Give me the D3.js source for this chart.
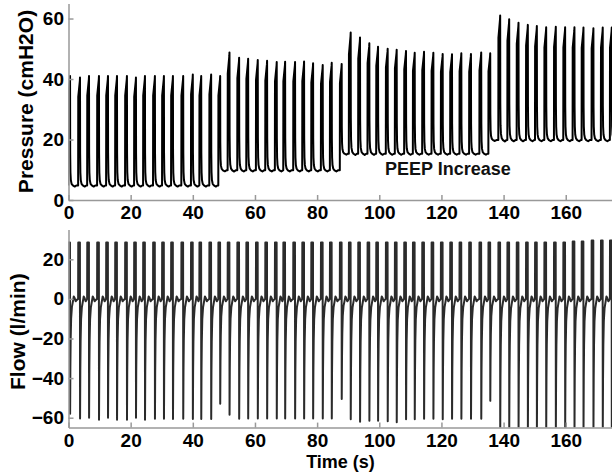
<!DOCTYPE html>
<html>
<head>
<meta charset="utf-8">
<script src="https://cdn.jsdelivr.net/npm/d3@7"></script>
<style>
  body { margin: 0; background: #fff; }
  text { font-family: "Liberation Sans", Arial, sans-serif; font-weight: bold; }
</style>
</head>
<body>
<svg id="chart"></svg>
<script>
// time (s) of each breath's end of inspiration
const peakTimes = [0.5, 3.7, 6.6, 9.8, 12.7, 15.6, 18.8, 21.7, 24.6, 27.8, 30.7, 33.6, 36.9, 40.0, 42.7, 45.9, 48.8,
  51.8, 54.9, 57.8, 60.9, 63.9, 67.0, 69.7, 72.9, 75.8, 78.7, 81.8, 84.7, 87.9,
  90.8, 93.8, 96.8, 99.6, 102.7, 105.6, 108.6, 111.4, 114.4, 117.4, 120.4, 123.4, 126.4, 129.5, 132.8, 135.7,
  138.9, 141.8, 144.8, 147.8, 150.7, 153.7, 156.8, 159.8, 162.8, 165.7, 168.9, 171.9, 174.8];

// peak airway pressure (cmH2O) per breath
const peakPressure = [41, 40.5, 41, 41, 41, 41, 41, 40.5, 41, 41, 41, 41, 41, 41.5, 41, 41.5, 41,
  48.8, 47.0, 46.7, 46.3, 46.0, 45.6, 45.7, 45.6, 45.8, 45.2, 44.6, 45.4, 45.0,
  55.4, 53.7, 51.8, 50.7, 50.0, 49.7, 49.3, 48.7, 49.0, 48.7, 48.3, 48.2, 48.5, 48.3, 48.8, 48.5,
  61.0, 59.8, 58.6, 57.9, 57.5, 57.1, 57.3, 57.1, 57.1, 57.0, 56.8, 57.0, 57.0];

// PEEP reached during the expiration that follows each breath
const peepLevel = [4.8, 4.8, 4.8, 4.8, 4.8, 4.8, 4.8, 4.8, 4.8, 4.8, 4.8, 4.8, 4.8, 4.8, 4.8, 4.8,
  9.8, 9.8, 9.8, 9.8, 9.8, 9.8, 9.8, 9.8, 9.8, 9.8, 9.8, 9.8, 9.8,
  15.3, 15.3, 15.3, 15.3, 15.3, 15.3, 15.3, 15.3, 15.3, 15.3, 15.3, 15.3, 15.3, 15.3, 15.3, 15.3,
  19.8, 19.8, 19.8, 19.8, 19.8, 19.8, 19.8, 19.8, 19.8, 19.8, 19.8, 19.8, 19.8, 19.8];

// inspiratory (square) flow, l/min
const inspFlow = [28.5, 28.5, 28.5, 28.5, 28.5, 28.5, 28.5, 28.5, 28.5, 28.5, 28.5, 28.5, 28.5, 28.5, 28.5, 28.5, 28.5,
  28.5, 28.5, 28.5, 28.5, 28.5, 28.5, 28.5, 28.5, 28.5, 28.5, 28.5, 28.5, 28.5,
  28.5, 28.5, 28.5, 28.5, 28.5, 28.5, 28.5, 28.5, 28.5, 28.5, 28.5, 28.5, 28.5, 28.5, 28.5, 28.5,
  28.5, 28.5, 28.5, 28.5, 28.5, 28.5, 28.5, 28.5, 29, 29, 29.5, 29.5, 29.5];

// peak expiratory flow, l/min
const expFlowPeak = [-58, -60.4, -60, -61, -60, -61, -61, -60, -61, -60.5, -60.5, -60.7, -60.5, -60.6, -60.6, -60.6,
  -53, -58.5, -60.5, -60.4, -60.4, -60.4, -60.4, -60.4, -60.4, -60.4, -60.4, -60.4, -60.4,
  -50.5, -60.8, -62, -61.5, -61.5, -61.8, -62.3, -60.8, -60.8, -60.5, -60.5, -60.8, -60.5, -60.5, -60.5, -60.5,
  -51.5, -66, -66, -66, -66, -66, -66, -66, -66, -66, -66, -66, -66, -66];

// shape of one breath, [seconds from end of inspiration, fraction]
const pressureRise = [[-0.6, 0], [-0.56, 0.82], [-0.05, 0.97], [0, 1]];
const pressureFall = [[0.04, 0.3], [0.12, 0.12], [0.25, 0.05], [0.5, 0.015], [0.9, 0], [1.5, -0.01], [2.0, 0]];
const flowInsp = [[-0.6, 0], [-0.56, 1], [-0.03, 1]];
const flowExp = [[0.02, 1], [0.1, 0.6], [0.2, 0.35], [0.35, 0.17], [0.6, 0.07], [0.9, 0.025]];
const flowRest = [[1.2, 1.2], [1.5, 0.3], [1.8, -1.2], [2.1, -0.6]]; // l/min

const xTicks = [0, 20, 40, 60, 80, 100, 120, 140, 160];
const pressureTicks = [0, 20, 40, 60];
const flowTicks = [-60, -40, -20, 0, 20];

const width = 612, height = 472;
const svg = d3.select("#chart").attr("width", width).attr("height", height);

const x = d3.scaleLinear().domain([0, 180]).range([68.5, 627.9]);
const yP = d3.scaleLinear().domain([0, 65]).range([200, 3.4]);
const yF = d3.scaleLinear().domain([-65, 35]).range([427.6, 229.6]);

// build the sampled waveforms from the per-breath values
const pressurePts = [];
const flowPts = [];
peakTimes.forEach((tp, i) => {
  const nextStart = i < peakTimes.length - 1 ? peakTimes[i + 1] - 0.65 : Infinity;
  const from = i > 0 ? peepLevel[i - 1] : peepLevel[0];
  const to = peepLevel[i];
  const pk = peakPressure[i];
  pressureRise.forEach(([dt, f]) => pressurePts.push([tp + dt, from + f * (pk - from)]));
  pressureFall.forEach(([dt, f]) => {
    if (tp + dt < nextStart) pressurePts.push([tp + dt, to + f * (pk - to)]);
  });
  flowInsp.forEach(([dt, f]) => flowPts.push([tp + dt, f * inspFlow[i]]));
  flowExp.forEach(([dt, f]) => flowPts.push([tp + dt, f * expFlowPeak[i]]));
  flowRest.forEach(([dt, v]) => {
    if (tp + dt < nextStart) flowPts.push([tp + dt, v]);
  });
});
pressurePts.push([180, peepLevel[peepLevel.length - 1]]);
flowPts.push([180, 0]);

const clip = (id, y0, y1) => {
  svg.append("clipPath").attr("id", id)
    .append("rect")
    .attr("x", x(0)).attr("y", y0)
    .attr("width", width - x(0)).attr("height", y1 - y0);
};
clip("clip-p", yP(65), yP(0));
clip("clip-f", yF(35), yF(-65));

svg.append("path")
  .datum(pressurePts)
  .attr("clip-path", "url(#clip-p)")
  .attr("d", d3.line().x(d => x(d[0])).y(d => yP(d[1])))
  .attr("fill", "none")
  .attr("stroke", "#000")
  .attr("stroke-width", 2)
  .attr("stroke-linejoin", "round");

svg.append("path")
  .datum(flowPts)
  .attr("clip-path", "url(#clip-f)")
  .attr("d", d3.line().x(d => x(d[0])).y(d => yF(d[1])))
  .attr("fill", "none")
  .attr("stroke", "#2b2b2b")
  .attr("stroke-width", 2)
  .attr("stroke-linejoin", "round");

const styleAxis = (g) => {
  g.selectAll("path, line").attr("stroke", "#999").attr("stroke-width", 1.5);
  g.selectAll("text").attr("fill", "#000").attr("font-size", 19)
    .attr("font-family", "Liberation Sans, Arial, sans-serif").attr("font-weight", "bold");
};

const drawAxes = (yScale, yTicks, yLabel, labelX, labelY) => {
  svg.append("g")
    .attr("transform", `translate(0,${yScale.range()[0]})`)
    .call(d3.axisBottom(x).tickValues(xTicks).tickSizeInner(-5).tickSizeOuter(0).tickPadding(6))
    .call(styleAxis);
  svg.append("g")
    .attr("transform", `translate(${x(0)},0)`)
    .call(d3.axisLeft(yScale).tickValues(yTicks).tickSizeInner(-5).tickSizeOuter(0).tickPadding(4.5))
    .call(styleAxis);
  svg.append("text")
    .attr("transform", `translate(${labelX},${labelY}) rotate(-90)`)
    .attr("text-anchor", "middle")
    .attr("font-size", 21)
    .text(yLabel);
};

drawAxes(yP, pressureTicks, "Pressure (cmH2O)", 32.5, 101.5);
drawAxes(yF, flowTicks, "Flow (l/min)", 25, 331.7);

svg.append("text")
  .attr("x", 340.5).attr("y", 467.5)
  .attr("text-anchor", "middle")
  .attr("font-size", 18)
  .text("Time (s)");

svg.append("text")
  .attr("x", 385).attr("y", 175)
  .attr("font-size", 18)
  .attr("fill", "#111")
  .text("PEEP Increase");
</script>
</body>
</html>
